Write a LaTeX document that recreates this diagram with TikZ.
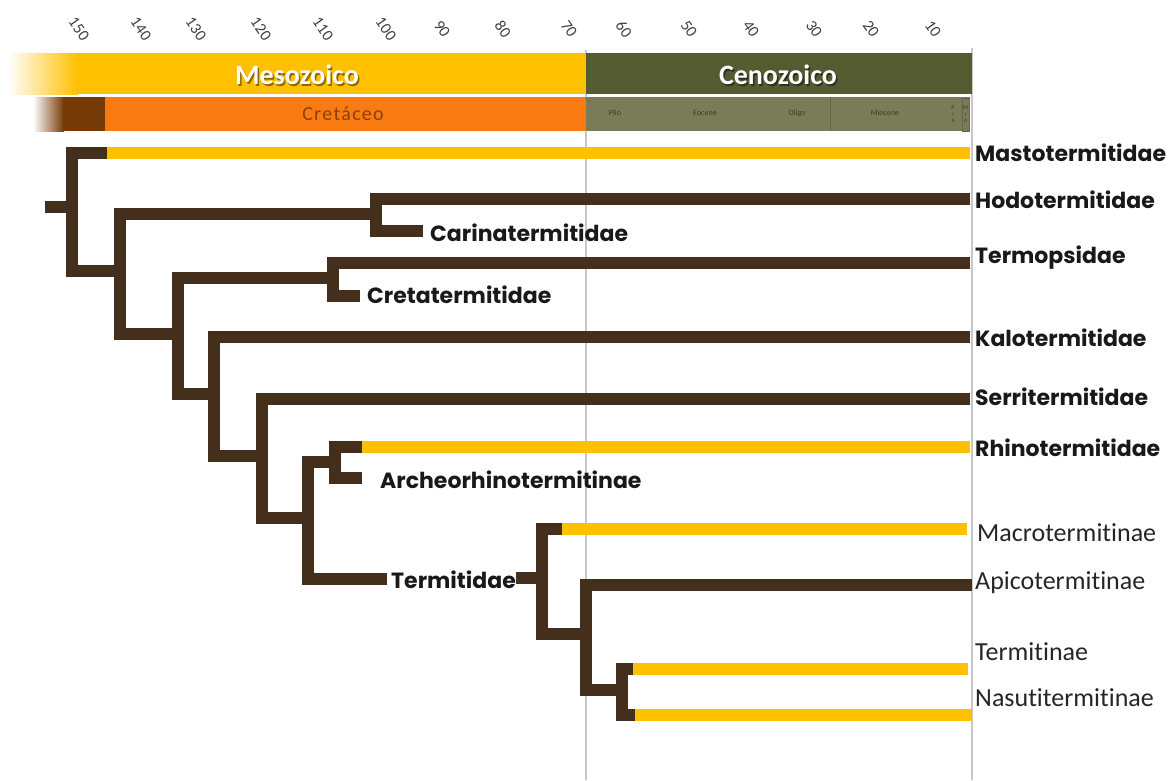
\documentclass[tikz,border=0pt]{standalone}
\usepackage{fontspec}
\setmainfont{Carlito}[Ligatures=NoCommon]
\newfontfamily\popf{Poppins}
\definecolor{brn}{HTML}{432F1C}
\definecolor{yel}{HTML}{FFC000}
\definecolor{ceno}{HTML}{545B30}
\definecolor{cret}{HTML}{FA7A12}
\definecolor{cretd}{HTML}{763A06}
\definecolor{epoch}{HTML}{7A7C58}
\definecolor{epocht}{HTML}{3C3C28}
\definecolor{gridg}{HTML}{C8C8C8}
\definecolor{cretxt}{HTML}{8A4010}
\tikzset{
  br/.style={draw=brn, line width=12pt},
  brv/.style={draw=brn, line width=12pt, line cap=rect},
  yb/.style={draw=yel, line width=12pt},
  gridline/.style={draw=gridg, line width=2pt},
  agetick/.style={rotate=-55, text=black!75, font=\fontsize{16}{17}\selectfont, inner sep=0pt},
  blab/.style={anchor=west, inner sep=0pt, text=black!90, font=\popf\bfseries\fontsize{22}{24}\selectfont},
  rlab/.style={anchor=west, inner sep=0pt, text=black!85, font=\fontsize{26}{28}\selectfont},
  eralab/.style={text=white, font=\bfseries\fontsize{28}{30}\selectfont, inner sep=0pt},
  erashadow/.style={text=black, opacity=0.45, font=\bfseries\fontsize{28}{30}\selectfont, inner sep=0pt},
  eplab/.style={text=epocht, font=\fontsize{8}{9}\selectfont, inner sep=0pt},
}
\begin{document}
\begin{tikzpicture}[x=1pt,y=-1pt]
\useasboundingbox (0,0) rectangle (1174,780);
\fill[white] (0,0) rectangle (1174,780);

% age axis
\foreach \v/\x in {150/79,140/141,130/196,120/261,110/323,100/386,90/442,80/503,70/569,60/624,50/689,40/751,30/814,20/871,10/933}
  \node[agetick] (age\v) at (\x,29) {\v};

% grid lines
\draw[gridline] (586,50) -- (586,780);
\draw[gridline] (972,48) -- (972,780);

% era row
\shade[left color=white, right color=yel] (8,53) rectangle (78,94);
\fill[yel] (77,53) rectangle (586,94);
\fill[ceno] (586,53) rectangle (972,94);
\node[erashadow] (mesos) at (298.5,76.5) {Mesozoico};
\node[eralab] (meso) at (297,75) {Mesozoico};
\node[erashadow] (cenos) at (779.5,76.5) {Cenozoico};
\node[eralab] (ceno) at (778,75) {Cenozoico};

% period / epoch row
\shade[left color=white, right color=cretd] (33,97) rectangle (64,131);
\fill[cretd] (63,97) rectangle (105,131);
\fill[cret] (105,97) rectangle (586,131);
\node[text=cretxt, font=\fontsize{20}{22}\selectfont, inner sep=0pt] (cretaceo) at (343,114) {C\kern1.2pt r\kern1.2pt e\kern1.2pt t\kern1.2pt á\kern1.2pt c\kern1.2pt e\kern1.2pt o};
\fill[epoch] (586,97) rectangle (970,131);
\draw[epocht!80, line width=1pt] (830,97) -- (830,131);
\draw[epocht!80, line width=0.8pt] (962,98) rectangle (969,131);
\node[eplab] (plio) at (615,113) {Plio};
\node[eplab] (eoc) at (705,113) {Eocene};
\node[eplab] (olig) at (797,113) {Oligo};
\node[eplab] (mioc) at (885,113) {Miocene};
\node[eplab, font=\fontsize{6}{7}\selectfont] (ple) at (953,114) {\shortstack{P\\l\\e}};
\node[eplab, font=\fontsize{6}{7}\selectfont] (mio) at (965.5,114) {\shortstack{M\\i\\o}};

% labels
\node[blab] (masto) at (975,153) {Mastotermitidae};
\node[blab] (hodo) at (975,200) {Hodotermitidae};
\node[blab] (carina) at (430,233) {Carinatermitidae};
\node[blab] (termop) at (975,258) {Termopsidae};
\node[blab] (creta) at (367,295) {Cretatermitidae};
\node[blab] (kalo) at (975,338) {Kalotermitidae};
\node[blab] (serri) at (975,397) {Serritermitidae};
\node[blab] (rhino) at (975,448) {Rhinotermitidae};
\node[blab] (archeo) at (380,480) {Archeorhinotermitinae};
\node[blab] (termitidae) at (391,580) {Termitidae};
\node[rlab] (macro) at (977,533) {Macrotermitinae};
\node[rlab] (apico) at (975,583) {Apicotermitinae};
\node[rlab] (termitinae) at (975,652) {Termitinae};
\node[rlab] (nasuti) at (975,698) {Nasutitermitinae};

% tree coordinates
\coordinate (rootS) at (45,207);
\coordinate (n0m) at (72,207);
\coordinate (n0t) at (72,153);  \coordinate (n0b) at (72,271);
\coordinate (n1t) at (120,214); \coordinate (n1b) at (120,334); \coordinate (n1m) at (120,271);
\coordinate (n2t) at (376,199); \coordinate (n2b) at (376,231); \coordinate (n2m) at (376,214);
\coordinate (n3t) at (178,278); \coordinate (n3b) at (178,394); \coordinate (n3m) at (178,334);
\coordinate (n4t) at (333,263); \coordinate (n4b) at (333,296); \coordinate (n4m) at (333,278);
\coordinate (n5t) at (214,337); \coordinate (n5b) at (214,456); \coordinate (n5m) at (214,394);
\coordinate (n6t) at (262,399); \coordinate (n6b) at (262,518); \coordinate (n6m) at (262,456);
\coordinate (n7t) at (308,462); \coordinate (n7b) at (308,579); \coordinate (n7m) at (308,518);
\coordinate (n8t) at (335,447); \coordinate (n8b) at (335,478); \coordinate (n8m) at (335,462);
\coordinate (n9t) at (542,529); \coordinate (n9b) at (542,634); \coordinate (n9m) at (542,578);
\coordinate (n10t) at (586,585); \coordinate (n10b) at (586,690); \coordinate (n10m) at (586,634);
\coordinate (n11t) at (622,669); \coordinate (n11b) at (622,715); \coordinate (n11m) at (622,690);

\coordinate (mastoY) at (107,153); \coordinate (mastoE) at (970,153);
\coordinate (hodoE) at (970,199);  \coordinate (carinaE) at (423,231);
\coordinate (termopE) at (970,263); \coordinate (cretaE) at (360,296);
\coordinate (kaloE) at (970,337); \coordinate (serriE) at (970,399);
\coordinate (rhinoY) at (362,447); \coordinate (rhinoE) at (970,447);
\coordinate (archeoE) at (362,478);
\coordinate (termA) at (387,579); \coordinate (termB) at (516,578);
\coordinate (macroY) at (562,529); \coordinate (macroE) at (967,529);
\coordinate (apicoE) at (972,585);
\coordinate (termiY) at (633,669); \coordinate (termiE) at (968,669);
\coordinate (nasuY) at (635,715); \coordinate (nasuE) at (972,715);

% verticals
\foreach \n in {n0,n1,n2,n3,n4,n5,n6,n7,n8,n9,n10,n11}
  \draw[brv] (\n t) -- (\n b);

% horizontals
\draw[br] (rootS) -- (n0m);
\draw[br] (n0t) -- (mastoY);
\draw[yb] (mastoY) -- (mastoE);
\draw[br] (n0b) -- (n1m);
\draw[br] (n1t) -- (n2m);
\draw[br] (n2t) -- (hodoE);
\draw[br] (n2b) -- (carinaE);
\draw[br] (n1b) -- (n3m);
\draw[br] (n3t) -- (n4m);
\draw[br] (n4t) -- (termopE);
\draw[br] (n4b) -- (cretaE);
\draw[br] (n3b) -- (n5m);
\draw[br] (n5t) -- (kaloE);
\draw[br] (n5b) -- (n6m);
\draw[br] (n6t) -- (serriE);
\draw[br] (n6b) -- (n7m);
\draw[br] (n7t) -- (n8m);
\draw[br] (n8t) -- (rhinoY);
\draw[yb] (rhinoY) -- (rhinoE);
\draw[br] (n8b) -- (archeoE);
\draw[br] (n7b) -- (termA);
\draw[br] (termB) -- (n9m);
\draw[br] (n9t) -- (macroY);
\draw[yb] (macroY) -- (macroE);
\draw[br] (n9b) -- (n10m);
\draw[br] (n10t) -- (apicoE);
\draw[br] (n10b) -- (n11m);
\draw[br] (n11t) -- (termiY);
\draw[yb] (termiY) -- (termiE);
\draw[br] (n11b) -- (nasuY);
\draw[yb] (nasuY) -- (nasuE);
\end{tikzpicture}
\end{document}
